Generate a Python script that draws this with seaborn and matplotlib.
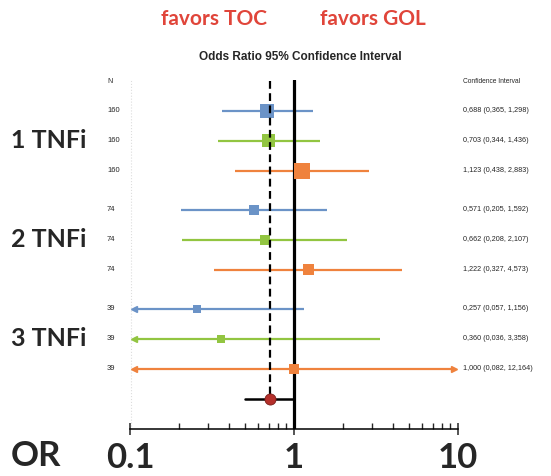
import numpy as np
import pandas as pd
import matplotlib
matplotlib.use("Agg")
import matplotlib.pyplot as plt
import matplotlib.transforms as mtrans
from matplotlib.ticker import LogLocator, FixedLocator, NullFormatter
import seaborn as sns

# podaci iz slike
groups = ['1 TNFi', '2 TNFi', '3 TNFi']
series = ['s1', 's2', 's3', 's1', 's2', 's3', 's1', 's2', 's3']
n_pat = [160, 160, 160, 74, 74, 74, 39, 39, 39]
odds = [0.688, 0.703, 1.123, 0.571, 0.662, 1.222, 0.257, 0.360, 1.000]
ci_lo = [0.365, 0.344, 0.438, 0.205, 0.208, 0.327, 0.057, 0.036, 0.082]
ci_hi = [1.298, 1.436, 2.883, 1.592, 2.107, 4.573, 1.156, 3.358, 12.164]
pooled_or = 0.71
pooled_lo = 0.50
pooled_hi = 1.00
x_ticks = [0.1, 1, 10]
x_ticklabels = ['0.1', '1', '10']

# stil
boje = {'s1': '#6b93c7', 's2': '#92c541', 's3': '#ef823d'}
vel_px = [14, 13, 16, 10, 10, 11, 8, 8, 10]
xmin, xmax = 0.1, 10

df = pd.DataFrame({'series': series, 'n': n_pat, 'odds': odds,
                   'lo': ci_lo, 'hi': ci_hi})
df['row'] = range(len(df))
df['pos'] = [i % 3 + (i // 3) * 3.3 for i in range(len(df))]
pooled_pos = df['pos'].max() + 1.0

sns.set_style('white')
plt.rcParams['font.family'] = ['Liberation Sans', 'DejaVu Sans']

fig = plt.figure(figsize=(5.51, 4.76), dpi=100)
W, H = 551, 476
ax = fig.add_axes([130 / W, 1 - 429 / H, 328 / W, (429 - 80) / H])
ax.set_xscale('log')
ax.set_xlim(xmin, xmax)
ax.set_ylim(10.6, -1.03)

# linije intervala pouzdanosti
for _, r in df.iterrows():
    c = boje[r['series']]
    lo = max(r['lo'], xmin * 1.06)
    hi = min(r['hi'], xmax / 1.06)
    ax.plot([lo, hi], [r['pos'], r['pos']], color=c, lw=1.6, zorder=2,
            solid_capstyle='butt')
    if r['lo'] < xmin:
        ax.plot(lo, r['pos'], marker='<', color=c, ms=4, zorder=2)
    if r['hi'] > xmax:
        ax.plot(hi, r['pos'], marker='>', color=c, ms=4, zorder=2)

# vertikalne linije
ax.axvline(1, color='black', lw=2.3, zorder=3)
ax.plot([pooled_or, pooled_or], [-1.0, pooled_pos], color='black', lw=1.6,
        ls=(0, (3.5, 2)), zorder=6)
ax.axvline(xmin * 1.02, color='#dddddd', lw=0.8, ls=':', zorder=1)

# tocke (kvadrati)
velicine = {i: (v * 0.72) ** 2 for i, v in enumerate(vel_px)}
sns.scatterplot(data=df, x='odds', y='pos', hue='series', palette=boje,
                marker='s', size='row', sizes=velicine, legend=False, ax=ax,
                linewidth=0, zorder=5)

# zbirni rezultat
ax.plot([pooled_lo, pooled_hi], [pooled_pos, pooled_pos], color='black',
        lw=1.8, zorder=3)
ax.plot(pooled_or, pooled_pos, marker='o', color='#b5302b', ms=8,
        mec='#7a1f1b', mew=0.6, zorder=7)

# os
for s in ['top', 'left', 'right']:
    ax.spines[s].set_visible(False)
ax.spines['bottom'].set_linewidth(1.1)
ax.spines['bottom'].set_color('black')
ax.xaxis.set_major_locator(FixedLocator(x_ticks))
ax.xaxis.set_minor_locator(LogLocator(base=10, subs=np.arange(2, 10)))
ax.xaxis.set_minor_formatter(NullFormatter())
ax.set_xticklabels(x_ticklabels, family=['Lato', 'DejaVu Sans'],
                   fontweight='bold', fontsize=25)
ax.tick_params(axis='x', which='major', direction='inout', length=8,
               width=1.1, pad=5, bottom=True)
ax.tick_params(axis='x', which='minor', direction='in', length=4,
               width=1.0, bottom=True)
ax.set_yticks([])
ax.set_xlabel('')
ax.set_ylabel('')

# tekst
trN = mtrans.blended_transform_factory(fig.transFigure, ax.transData)
ax.text(107 / W, -0.98, 'N', transform=trN, fontsize=5, va='center')
ax.text(463 / W, -0.98, 'Confidence Interval', transform=trN, fontsize=4.8,
        va='center')
fmt = lambda v: f'{v:.3f}'.replace('.', ',')
for _, r in df.iterrows():
    ax.text(107 / W, r['pos'], str(r['n']), transform=trN, fontsize=5.5,
            va='center')
    ax.text(463 / W, r['pos'],
            f"{fmt(r['odds'])} ({fmt(r['lo'])}, {fmt(r['hi'])})",
            transform=trN, fontsize=5.2, va='center')
for g, name in enumerate(groups):
    y = df['pos'].iloc[g * 3 + 1]
    ax.text(49 / W, y, name, transform=trN, fontsize=18, fontweight='bold',
            family=['Lato', 'DejaVu Sans'], ha='center', va='center')

fig.text(36 / W, 1 - 456 / H, 'OR', fontsize=25, fontweight='bold',
         family=['Lato', 'DejaVu Sans'], ha='center', va='center')
fig.text(214 / W, 1 - 19 / H, 'favors TOC', fontsize=15, fontweight='bold',
         family=['Lato', 'DejaVu Sans'], color='#e0453a', ha='center',
         va='center')
fig.text(373 / W, 1 - 19 / H, 'favors GOL', fontsize=15, fontweight='bold',
         family=['Lato', 'DejaVu Sans'], color='#e0453a', ha='center',
         va='center')
fig.text(300 / W, 1 - 57 / H, 'Odds Ratio 95% Confidence Interval',
         fontsize=8.5, fontweight='bold', ha='center', va='center')

fig.savefig('out.png', dpi=100)
